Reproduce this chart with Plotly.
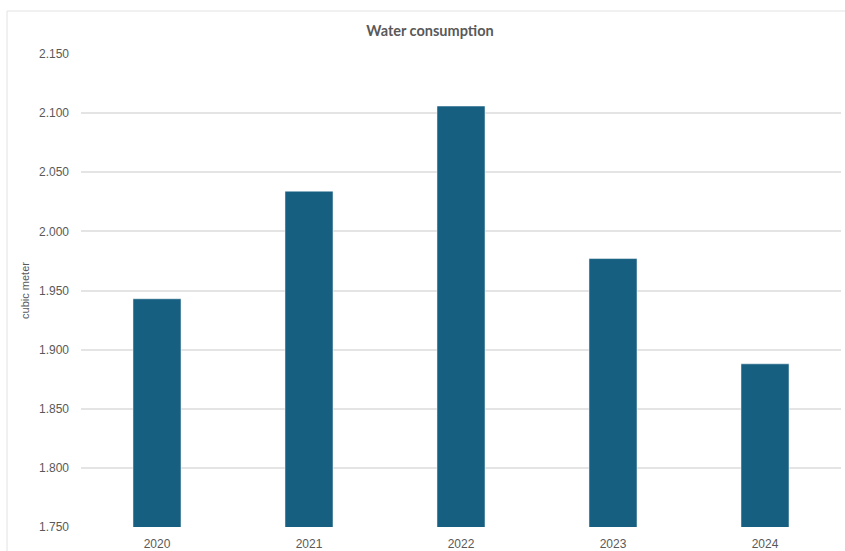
import plotly.graph_objects as go

years = ["2020", "2021", "2022", "2023", "2024"]
consumption = [1943, 2034, 2106, 1977, 1888]
y_ticks = [1750, 1800, 1850, 1900, 1950, 2000, 2050, 2100, 2150]

fig = go.Figure()
fig.add_trace(go.Bar(
    x=years, y=consumption,
    marker=dict(color="#165f80", line=dict(color="rgba(255,255,255,0.5)", width=1)),
    hoverinfo="x+y",
))

fig.update_layout(
    width=845, height=551,
    margin=dict(l=81, r=4, t=54, b=24),
    paper_bgcolor="white", plot_bgcolor="white",
    separators=",.",
    bargap=0.684,
    showlegend=False,
    title=dict(text="<b>Water consumption</b>", x=430/845, xanchor="center",
               y=1 - 31/551, yanchor="middle",
               font=dict(family="Lato", size=14.5, color="#595959")),
    font=dict(family="Liberation Sans", size=12, color="#595959"),
    xaxis=dict(showgrid=False, showline=False, ticks="", ticklabelstandoff=8, automargin=False,
               tickfont=dict(family="Liberation Sans", size=12, color="#595959")),
    yaxis=dict(range=[1750, 2150], tickvals=y_ticks, tickformat=",.0f", automargin=False,
               showgrid=True, gridcolor="#e4e4e4", gridwidth=1.5,
               zeroline=False, showline=False, ticks="", ticklabelstandoff=11,
               title=dict(text="cubic meter", font=dict(family="Liberation Sans", size=11, color="#595959"), standoff=7),
               tickfont=dict(family="Liberation Sans", size=12, color="#595959")),
    shapes=[
        dict(type="line", xref="paper", yref="paper",
             x0=(7 - 81) / 760, x1=(7 - 81) / 760, y0=(527 - 11) / 473, y1=-0.1,
             line=dict(color="#e2e2e2", width=1)),
        dict(type="line", xref="paper", yref="paper",
             x0=(7 - 81) / 760, x1=1.02, y0=(527 - 11) / 473, y1=(527 - 11) / 473,
             line=dict(color="#e2e2e2", width=1)),
    ],
)

fig.write_html("out.html")
